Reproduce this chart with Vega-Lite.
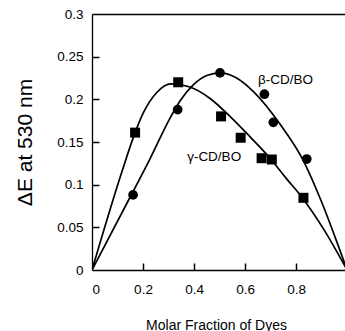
{
  "$schema": "https://vega.github.io/schema/vega-lite/v6.json",
  "width": 253,
  "height": 256,
  "autosize": {"type": "none"},
  "padding": {"left": 92, "top": 14, "right": 0, "bottom": 61},
  "background": "white",
  "config": {
    "view": {"stroke": null},
    "font": "Liberation Sans",
    "axis": {
      "grid": false,
      "domainColor": "black",
      "domainWidth": 1.3,
      "tickColor": "black",
      "tickWidth": 1.5,
      "labelColor": "black",
      "titleColor": "black",
      "labelFont": "Liberation Sans",
      "titleFont": "Liberation Sans",
      "labelFontSize": 13.5,
      "titleFontSize": 14,
      "titleFontWeight": "normal"
    }
  },
  "datasets": {
    "curves": [
      {"series": "γ-CD/BO", "x": 0, "y": 0},
      {"series": "γ-CD/BO", "x": 0.116, "y": 0.114},
      {"series": "γ-CD/BO", "x": 0.169, "y": 0.161},
      {"series": "γ-CD/BO", "x": 0.201, "y": 0.184},
      {"series": "γ-CD/BO", "x": 0.254, "y": 0.208},
      {"series": "γ-CD/BO", "x": 0.310, "y": 0.218},
      {"series": "γ-CD/BO", "x": 0.384, "y": 0.2145},
      {"series": "γ-CD/BO", "x": 0.463, "y": 0.201},
      {"series": "γ-CD/BO", "x": 0.541, "y": 0.180},
      {"series": "γ-CD/BO", "x": 0.620, "y": 0.156},
      {"series": "γ-CD/BO", "x": 0.698, "y": 0.131},
      {"series": "γ-CD/BO", "x": 0.760, "y": 0.108},
      {"series": "γ-CD/BO", "x": 0.829, "y": 0.083},
      {"series": "γ-CD/BO", "x": 0.910, "y": 0.047},
      {"series": "γ-CD/BO", "x": 1.0, "y": 0},
      {"series": "β-CD/BO", "x": 0, "y": 0},
      {"series": "β-CD/BO", "x": 0.161, "y": 0.092},
      {"series": "β-CD/BO", "x": 0.227, "y": 0.130},
      {"series": "β-CD/BO", "x": 0.306, "y": 0.178},
      {"series": "β-CD/BO", "x": 0.345, "y": 0.198},
      {"series": "β-CD/BO", "x": 0.397, "y": 0.217},
      {"series": "β-CD/BO", "x": 0.450, "y": 0.228},
      {"series": "β-CD/BO", "x": 0.502, "y": 0.231},
      {"series": "β-CD/BO", "x": 0.567, "y": 0.225},
      {"series": "β-CD/BO", "x": 0.633, "y": 0.209},
      {"series": "β-CD/BO", "x": 0.737, "y": 0.171},
      {"series": "β-CD/BO", "x": 0.829, "y": 0.128},
      {"series": "β-CD/BO", "x": 0.900, "y": 0.080},
      {"series": "β-CD/BO", "x": 0.960, "y": 0.033},
      {"series": "β-CD/BO", "x": 1.0, "y": 0}
    ],
    "points": [
      {"series": "β-CD/BO", "x": 0.161, "y": 0.088},
      {"series": "β-CD/BO", "x": 0.336, "y": 0.188},
      {"series": "β-CD/BO", "x": 0.502, "y": 0.231},
      {"series": "β-CD/BO", "x": 0.676, "y": 0.206},
      {"series": "β-CD/BO", "x": 0.711, "y": 0.173},
      {"series": "β-CD/BO", "x": 0.842, "y": 0.130},
      {"series": "γ-CD/BO", "x": 0.169, "y": 0.161},
      {"series": "γ-CD/BO", "x": 0.338, "y": 0.220},
      {"series": "γ-CD/BO", "x": 0.506, "y": 0.180},
      {"series": "γ-CD/BO", "x": 0.583, "y": 0.155},
      {"series": "γ-CD/BO", "x": 0.665, "y": 0.131},
      {"series": "γ-CD/BO", "x": 0.705, "y": 0.1295},
      {"series": "γ-CD/BO", "x": 0.829, "y": 0.0846}
    ],
    "labels": [
      {"label": "β-CD/BO", "x": 0.651, "y": 0.223},
      {"label": "γ-CD/BO", "x": 0.373, "y": 0.133}
    ]
  },
  "resolve": {"axis": {"x": "independent", "y": "independent"}},
  "layer": [
    {
      "data": {"name": "curves"},
      "mark": {"type": "line", "interpolate": "monotone", "color": "black", "strokeWidth": 1.7, "clip": true},
      "encoding": {
        "x": {
          "field": "x", "type": "quantitative",
          "scale": {"domain": [0, 0.992], "nice": false, "zero": false},
          "axis": {
            "values": [0, 0.2, 0.4, 0.6, 0.8],
            "format": "~g",
            "ticks": false,
            "labelPadding": 12,
            "title": "Molar Fraction of Dyes",
            "titleX": 124,
            "titleY": 55,
            "titleBaseline": "middle",
            "titleAlign": "center"
          }
        },
        "y": {
          "field": "y", "type": "quantitative",
          "scale": {"domain": [0, 0.3], "nice": false},
          "axis": {
            "values": [0, 0.05, 0.1, 0.15, 0.2, 0.25, 0.3],
            "format": "~g",
            "ticks": false,
            "labelPadding": 9,
            "title": "ΔE at 530 nm",
            "titleFontSize": 21,
            "titleAngle": -90,
            "titleX": -67,
            "titleY": 128,
            "titleAlign": "center",
            "titleBaseline": "middle"
          }
        },
        "detail": {"field": "series"}
      }
    },
    {
      "data": {"name": "points"},
      "mark": {"type": "point", "filled": true, "color": "black", "opacity": 1},
      "encoding": {
        "x": {
          "field": "x", "type": "quantitative",
          "axis": {"orient": "top", "labels": false, "ticks": false, "title": null}
        },
        "y": {"field": "y", "type": "quantitative", "axis": null},
        "shape": {
          "field": "series",
          "scale": {"domain": ["β-CD/BO", "γ-CD/BO"], "range": ["circle", "square"]},
          "legend": null
        },
        "size": {
          "field": "series",
          "scale": {"domain": ["β-CD/BO", "γ-CD/BO"], "range": [95, 100]},
          "legend": null
        }
      }
    },
    {
      "data": {"name": "labels"},
      "mark": {"type": "text", "align": "left", "baseline": "middle", "fontSize": 13.5, "color": "black", "font": "Liberation Sans"},
      "encoding": {
        "x": {
          "field": "x", "type": "quantitative",
          "axis": {
            "orient": "bottom",
            "offset": -7,
            "values": [0.2, 0.4, 0.6, 0.8],
            "domain": false,
            "labels": false,
            "ticks": true,
            "tickSize": 7,
            "title": null,
            "zindex": 2
          }
        },
        "y": {
          "field": "y", "type": "quantitative",
          "axis": {
            "orient": "left",
            "offset": -7,
            "values": [0.05, 0.1, 0.15, 0.2, 0.25],
            "domain": false,
            "labels": false,
            "ticks": true,
            "tickSize": 7,
            "title": null,
            "zindex": 2
          }
        },
        "text": {"field": "label"}
      }
    }
  ]
}
